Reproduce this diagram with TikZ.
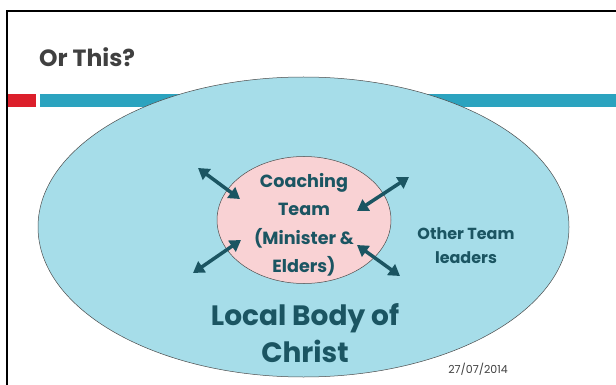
\documentclass[tikz,border=0pt]{standalone}
\usepackage{fontspec}
\setmainfont{Poppins}
\usetikzlibrary{arrows.meta,shapes.geometric}
\definecolor{titlegray}{HTML}{404040}
\definecolor{barred}{HTML}{DC1F2B}
\definecolor{barteal}{HTML}{2BA3BF}
\definecolor{outerfill}{HTML}{A6DDE9}
\definecolor{innerfill}{HTML}{F9D2D4}
\definecolor{darkteal}{HTML}{1B5562}
\tikzset{
  bodytext/.style={text=darkteal, font=\bfseries, align=center, inner sep=0pt},
  dblarrow/.style={darkteal, line width=3.5pt, {Triangle[length=11pt,width=13pt]}-{Triangle[length=11pt,width=13pt]}},
}
\begin{document}
\begin{tikzpicture}[x=1pt,y=-1pt]
\useasboundingbox (0,0) rectangle (616,385);
\fill[white] (0,0) rectangle (616,385);
% frame
\draw[black, line width=2pt] (7,385) -- (7,11) -- (616,11);
% title
\node[anchor=west, text=titlegray, font=\fontsize{23.5}{28}\selectfont\bfseries, inner sep=0pt] (title) at (39,57) {Or This?};
% bars
\fill[barred] (8,94) rectangle (36,107);
\fill[barteal] (40,94) rectangle (616,107);
% outer ellipse
\node[draw=black!70, line width=0.5pt, fill=outerfill, shape=ellipse, minimum width=531pt, minimum height=300pt, inner sep=0pt] (outer) at (303.5,227) {};
% inner ellipse
\node[draw=black!70, line width=0.5pt, fill=innerfill, shape=ellipse, minimum width=174pt, minimum height=127pt, inner sep=0pt] (inner) at (304,220) {};
% inner text
\node[bodytext, font=\fontsize{17.6}{28.5}\selectfont\bfseries] (coach) at (304,225) {Coaching\\Team\\(Minister \&\\Elders)};
% other team leaders
\node[bodytext, font=\fontsize{16}{24}\selectfont\bfseries] (other) at (466,246) {Other Team\\leaders};
% local body
\node[bodytext, font=\fontsize{28}{37}\selectfont\bfseries] (local) at (305,333) {Local Body of\\Christ};
% date
\node[text=titlegray, font=\fontsize{11}{12}\selectfont, inner sep=0pt] (date) at (478,369) {27/07/2014};
% arrows
\coordinate (a1) at (198,168); \coordinate (b1) at (240,199);
\coordinate (a2) at (409,177); \coordinate (b2) at (357,211);
\coordinate (a3) at (193,273); \coordinate (b3) at (241,240);
\coordinate (a4) at (400,276); \coordinate (b4) at (357,245);
\draw[dblarrow] (a1) -- (b1);
\draw[dblarrow] (a2) -- (b2);
\draw[dblarrow] (a3) -- (b3);
\draw[dblarrow] (a4) -- (b4);
\end{tikzpicture}
\end{document}
